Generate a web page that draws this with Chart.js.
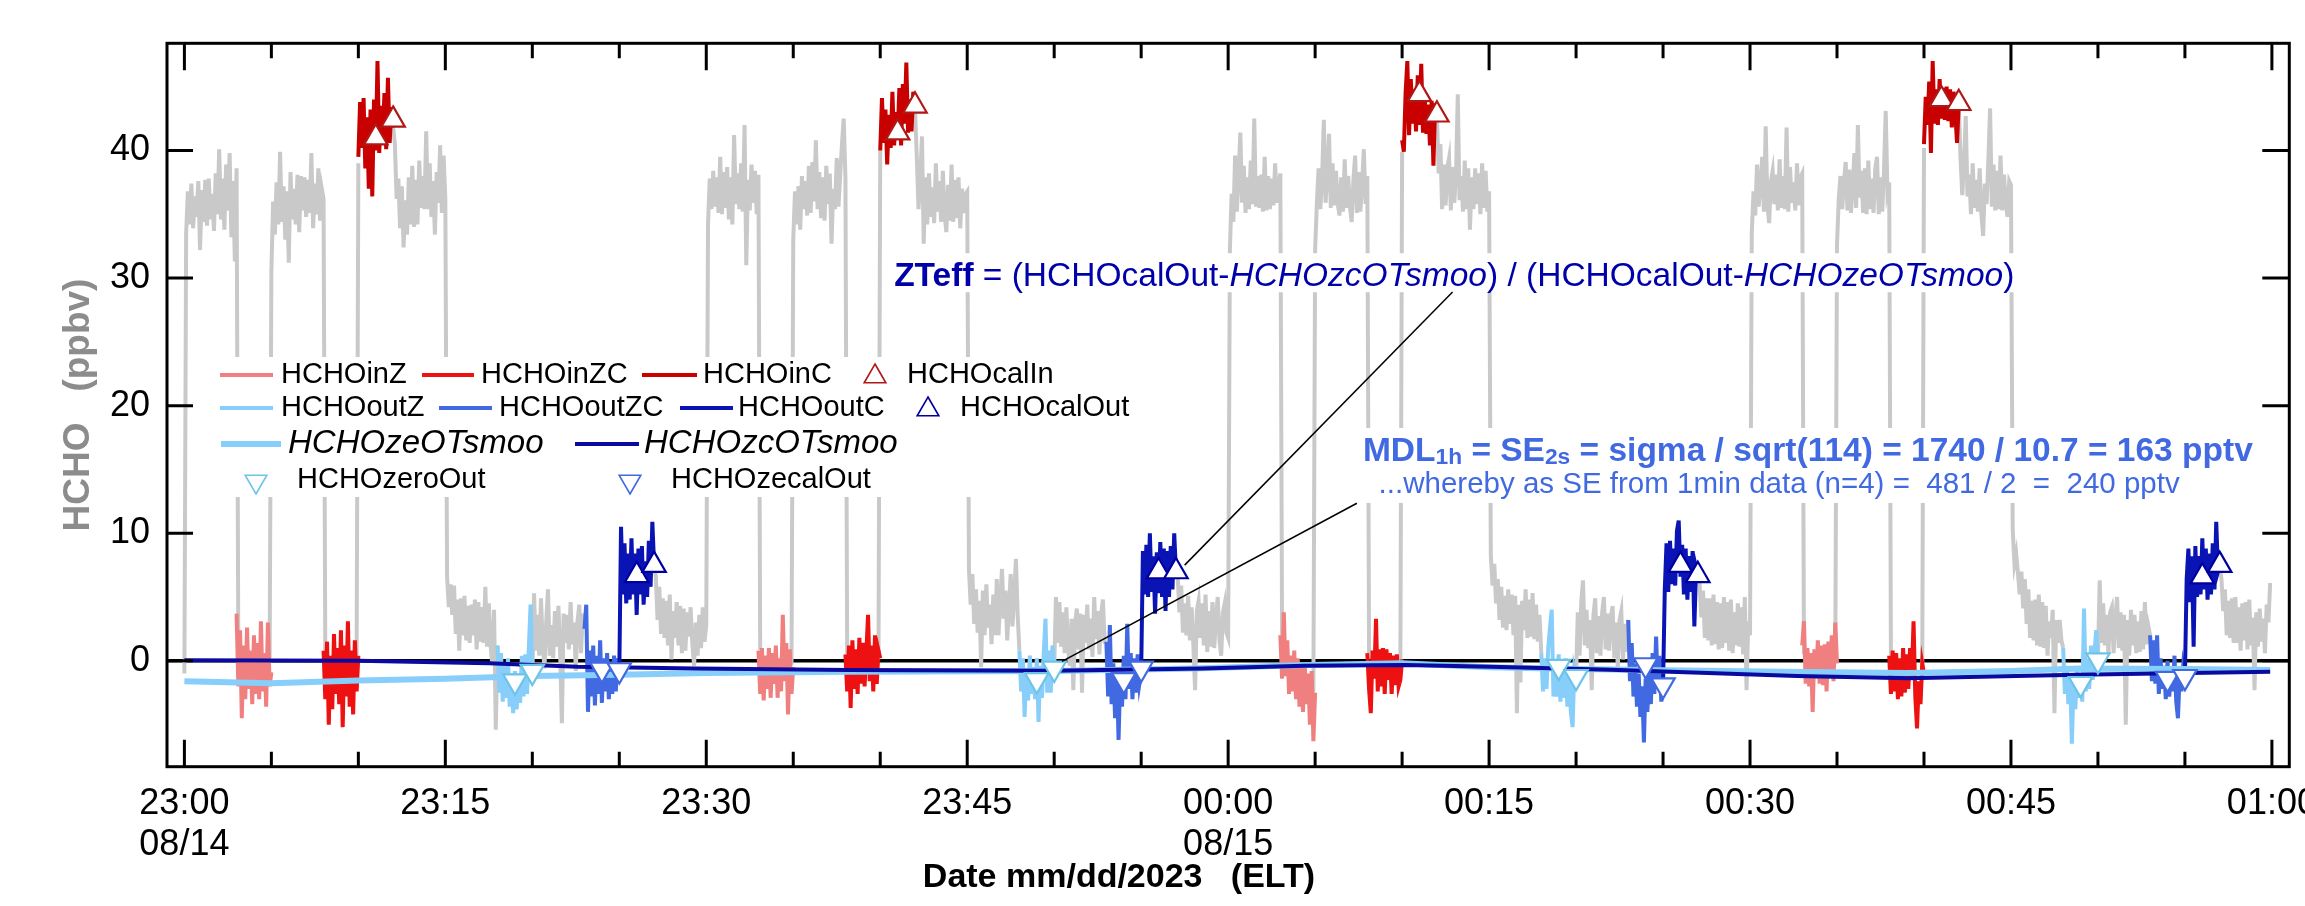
<!DOCTYPE html>
<html lang="en">
<head>
<meta charset="utf-8">
<title>HCHO inlet / outlet zero and calibration cycles</title>
<script src="https://cdn.jsdelivr.net/npm/chart.js@4.4.1/dist/chart.umd.min.js"></script>
<style>
  html, body { margin: 0; padding: 0; background: #ffffff; }
  canvas { display: block; }
</style>
</head>
<body>
<canvas id="hchoChart" width="2305" height="906"></canvas>
<script>
// Time is minutes after 23:00 on 08/14/2023, one sample every 6 s
const sampleStep = 0.1;

// x axis: labelled every 15 min, small ticks every 5
const tickMinutes = [0, 15, 30, 45, 60, 75, 90, 105, 120];
const tickTimes = ['23:00', '23:15', '23:30', '23:45', '00:00', '00:15', '00:30', '00:45', '01:00'];
const tickDates = ['08/14', '', '', '', '08/15', '', '', '', ''];
const minorStep = 5;
const yTicks = [0, 10, 20, 30, 40];

// full record (gray); each run starts at grayStarts[k], gaps are where the colored traces sit
const grayStarts = [0, 4.9, 9.9, 12.0, 20.0, 27.0, 34.9, 39.9, 42.0, 50.0, 57.0,
                    64.9, 69.9, 72.0, 80.0, 87.0, 94.9, 99.9, 102.0, 110.0, 117.0];
const grayRuns = [
  [-1.0, 33.5, 36.8, 34.2, 37.4, 33.9, 36.4, 34.8, 37.6, 32.2, 36.9, 34.4, 37.7, 34.1, 37.8, 34.6, 36.6, 33.7, 38.2, 35.0, 40.1, 34.6, 37.8, 33.8, 38.9, 35.3, 39.8, 33.2, 37.6, 31.3, 38.6, 0.5],
  [0.2, 30.5, 36.0, 33.4, 37.5, 34.2, 39.9, 34.4, 37.2, 33.0, 36.8, 31.2, 38.3, 34.6, 37.0, 34.2, 38.1, 33.6, 38.0, 35.3, 37.9, 34.8, 37.7, 35.1, 39.8, 33.9, 37.4, 35.0, 38.6, 34.5, 37.0, 36.2, 0.3],
  [0.4, 39.0],
  [41.8, 40.5, 36.2, 37.8, 33.9, 37.2, 32.4, 36.1, 33.4, 37.9, 34.2, 38.8, 34.0, 37.7, 34.2, 39.2, 35.5, 38.0, 35.4, 41.5, 35.4, 39.0, 34.8, 37.6, 33.4, 38.3, 35.9, 40.4, 35.1, 39.6, 36.2,
   6.6, 4.2, 6.0, 3.6, 5.9, 2.1, 4.8, 0.8, 4.9, 2.0, 5.1, 1.6, 4.3, 1.4, 4.4, 2.0, 4.8, 0.9, 4.6, 1.5, 4.2, 1.4, 5.8, 1.1, 4.5, 1.2, -0.3, 4.0, -5.4, 1.2],
  [-1.5, 5.3, 0.8, 3.6, 0.4, 4.9, 1.2, -0.6, 3.1, 5.6, 0.4, 2.8, 0.2, 3.9, 1.1, 4.3, 0.5, -4.9, 3.7, 1.4, 3.6, 0.9, 4.6, 1.3, 3.0, -0.8, 3.1, 4.4, 0.6, 3.7, 2.5],
  [7.5, 6.6, 3.2, 5.8, 2.1, 4.9, 1.8, 4.7, 1.2, 5.2, 0.1, 3.9, 1.8, 4.6, 1.2, 4.3, 0.6, 4.1, 0.8, 3.8, 1.9, 4.2, 1.3, -0.4, 3.0, 0.4, 3.6, 1.0, 4.2, 1.5,
   2.8, 34.2, 37.8, 35.4, 38.4, 35.6, 37.9, 35.1, 39.5, 35.0, 38.3, 35.5, 38.7, 34.6, 37.9, 34.2, 41.2, 35.8, 38.2, 35.4, 39.0, 35.2, 42.0, 31.0, 37.7, 35.3, 38.9, 35.9, 38.4, 35.0, 38.1, 0.8],
  [-0.3, 33.0, 36.8, 34.2, 37.2, 33.8, 38.0, 35.4, 37.6, 34.9, 38.8, 35.1, 39.1, 36.0, 40.8, 35.4, 38.3, 34.7, 37.9, 34.5, 38.8, 35.8, 38.2, 32.7, 37.0, 35.4, 39.4, 35.6, 38.1, 40.5, 42.5, 37.8, 0.5],
  [0.2, 40.0],
  [43.2, 39.6, 35.4, 37.8, 41.1, 32.7, 37.9, 34.2, 38.2, 34.8, 37.1, 34.3, 39.0, 35.2, 37.6, 34.4, 38.4, 35.0, 33.6, 37.3, 34.5, 38.9, 34.4, 37.7, 34.7, 37.9, 33.9, 37.0, 35.1, 36.6, 36.8,
   7.1, 4.4, 6.8, 2.9, 5.6, 2.2, 4.7, -0.5, 5.5, 2.0, 6.0, 2.6, 4.4, 1.3, 5.2, 2.0, 6.4, 2.0, 4.8, 7.2, 3.3, 5.5, 1.6, 4.2, 6.8, 2.7, 5.0, 8.0, 3.6, 0.8],
  [-0.6, 5.0, 1.4, 4.6, 1.1, 3.8, 0.6, 4.2, 1.0, -0.4, 3.3, -2.3, 2.9, 4.1, 0.9, 3.7, -2.5, 3.6, 1.4, 4.4, 0.9, 3.3, 0.3, 5.0, 1.7, 3.9, 0.5, 3.6, 4.8, 1.5, 1.5],
  [7.0, 6.6, 3.8, 5.9, 2.2, 4.5, 2.0, 5.1, 1.6, 4.2, 1.2, -2.3, 3.9, 4.7, 1.8, 4.5, 1.2, 5.2, 0.7, 3.9, 1.1, 4.6, 1.0, 3.3, 5.0, 1.6, 0.4, 3.8, 4.5, 2.2,
   1.8, 32.2, 36.6, 34.4, 39.6, 35.2, 38.1, 41.4, 35.9, 38.8, 35.1, 37.9, 35.4, 39.2, 35.8, 42.5, 35.6, 38.0, 35.5, 38.1, 35.2, 39.5, 35.3, 38.0, 35.4, 37.8, 35.7, 39.0, 35.9, 37.3, 38.2, 2.0],
  [-2.5, 32.2, 35.9, 38.6, 35.4, 37.8, 42.4, 35.9, 38.1, 41.3, 35.5, 39.0, 35.7, 38.4, 35.8, 34.9, 37.9, 35.2, 39.3, 35.5, 38.0, 35.6, 34.4, 37.7, 39.6, 35.1, 38.3, 35.2, 37.4, 40.1, 35.8, 38.0, 0.6],
  [-0.5, 39.9],
  [42.8, 38.2, 40.5, 35.4, 38.9, 35.7, 38.6, 39.4, 35.3, 38.7, 35.9, 38.2, 44.4, 36.1, 38.0, 35.2, 39.2, 35.4, 38.6, 33.8, 37.9, 35.4, 38.6, 35.8, 38.2, 35.0, 39.0, 35.5, 38.4, 35.2, 36.8,
   8.2, 5.9, 7.6, 4.5, 6.4, 3.2, 5.8, 2.6, 5.1, 2.4, 5.6, 2.9, 5.2, 2.0, 5.1, -4.1, 4.4, -1.7, 4.7, 2.4, 5.6, 1.8, 4.8, 1.9, 5.3, 1.7, 4.4, 1.5, 3.6, 0.6],
  [-1.2, 3.8, 0.4, 4.7, 6.3, 1.2, 4.0, 1.0, 3.2, -2.3, 3.6, 4.9, 0.6, 3.5, 0.4, 3.8, 5.0, 0.9, 3.7, 0.8, 3.4, 4.3, 0.2, 3.0, -0.6, 3.2, 3.9, 0.1, 2.9, 0.7, 3.2],
  [6.7, 6.1, 3.4, 5.5, 1.8, 4.9, 1.6, 4.9, 1.2, 5.2, 1.3, 4.6, 0.9, 4.5, 1.0, 5.0, 1.4, 4.6, 0.8, 4.8, 0.6, 3.8, 1.2, 4.5, 1.1, 4.2, 0.5, 5.0, -2.3, 3.1,
   2.0, 33.5, 36.8, 34.9, 38.9, 35.6, 37.4, 39.5, 35.2, 41.9, 35.8, 34.3, 37.6, 38.4, 35.8, 38.1, 35.3, 39.3, 35.5, 38.0, 35.4, 41.8, 35.2, 38.7, 35.9, 37.5, 35.3, 39.0, 35.7, 37.9, 38.2, 0.5],
  [-0.2, 32.6, 36.2, 38.0, 35.4, 37.6, 39.1, 35.3, 38.5, 35.1, 37.2, 39.8, 35.5, 42.0, 36.3, 38.4, 35.1, 38.6, 35.0, 39.2, 35.4, 37.8, 35.1, 38.6, 39.5, 35.0, 37.9, 35.2, 38.4, 43.1, 36.8, 37.5, 0.4],
  [-1.0, 40.2],
  [43.7, 39.4, 36.5, 38.9, 42.7, 36.4, 38.1, 35.0, 39.0, 35.5, 37.7, 35.2, 38.6, 35.0, 33.3, 37.4, 35.8, 39.2, 43.3, 35.6, 38.9, 35.3, 38.4, 35.4, 39.6, 35.3, 38.1, 35.9, 34.8, 37.6, 37.3,
   10.3, 7.6, 8.4, 6.9, 5.2, 7.0, 4.1, 6.4, 2.9, 5.6, 1.8, 4.7, 1.6, 4.8, 1.2, 5.2, 1.1, 4.6, 1.0, 4.3, 0.4, 3.1, 1.8, 4.0, -4.1, 3.2, 1.4, 3.2, 1.6, 1.0],
  [0.1, 6.3, 1.4, 4.5, 1.2, 3.6, 0.5, 3.8, 4.2, 0.6, 3.3, 5.0, 1.0, 3.8, 0.8, 3.6, -5.0, 3.2, 0.4, 4.0, 1.2, 3.6, 0.6, 3.1, 0.7, 3.9, 0.9, 4.6, 1.3, 2.7, 2.0],
  [7.5, 6.4, 3.9, 5.6, 2.0, 4.7, 1.8, 4.9, 1.4, 5.0, 1.4, 4.2, 0.8, 4.5, 1.6, 4.6, 0.9, 4.8, 1.2, 3.4, -2.3, 3.8, 1.1, 4.1, 1.5, 3.3, 0.6, 4.4, 3.0, 6.1]
];

// inlet zero, inlet zero+cal, inlet cal: 2 min each per cycle
const inZStarts = [3, 33, 63, 93];
const inZRuns = [
  [3.7, -2.0, 2.4, -4.5, 1.2, -3.0, 2.6, -2.2, 0.8, -3.4, 2.0, -2.6, 1.4, -3.0, 3.1, -2.4, 0.6, -3.6, 3.0, -2.0, -0.9],
  [0.8, -2.6, 1.0, -3.1, 0.4, -2.2, 1.0, -2.9, 0.6, -1.8, 1.2, -2.9, 0.2, -2.4, 3.6, -1.6, 1.4, -4.2, 0.9, -2.6, -0.5],
  [2.0, -1.4, 3.8, -1.2, 1.6, -2.6, 0.4, -2.4, 0.8, -3.0, 0.2, -3.6, -0.4, -4.0, -0.2, -3.4, -1.0, -5.0, -0.8, -6.3, -2.5],
  [1.2, 3.1, -1.8, 1.0, -2.0, 0.6, -4.0, 0.9, -1.4, 1.6, -1.8, 1.2, -1.9, 1.3, -2.4, 1.5, -1.1, 2.0, -1.6, 3.0, -0.2]
];
const inZCStarts = [8, 38, 68, 98];
const inZCRuns = [
  [0.8, -3.0, 1.5, -5.0, 0.4, -3.8, 2.1, -2.6, 1.0, -3.4, 2.4, -5.2, 1.2, -2.8, 3.1, -3.6, 0.8, -4.2, 1.6, -2.4, 0.4],
  [0.5, -2.4, 1.2, -3.7, 1.6, -2.2, 0.9, -2.6, 1.8, -1.8, 1.4, -2.0, 0.6, 3.6, -1.6, 1.2, -2.4, 2.0, -1.8, 0.8, 0.2],
  [0.6, -2.2, -4.1, 0.8, -1.4, 3.3, -2.4, 0.9, -2.0, 1.0, -2.6, 0.9, -1.5, 0.6, -2.6, 0.4, -1.9, 0.5, -2.0, -1.5, 0.1],
  [0.4, -2.6, 0.8, -2.4, 0.6, -3.0, 0.2, -2.8, 1.0, -2.5, 0.5, -2.2, 1.0, -1.4, 3.1, -2.8, -5.3, -1.6, -3.4, -0.2, -1.0]
];
const inCStarts = [10, 40, 70, 100];
const inCRuns = [
  [39.5, 43.8, 40.2, 44.1, 38.6, 42.6, 37.0, 43.2, 36.4, 44.0, 40.0, 47.0, 39.8, 43.5, 40.8, 44.5, 40.1, 45.7, 40.6, 43.4, 41.8],
  [40.0, 44.1, 40.6, 43.2, 38.9, 42.8, 40.2, 44.6, 40.4, 43.0, 41.0, 44.9, 40.4, 45.2, 42.1, 46.9, 41.4, 44.0, 41.5, 44.6, 43.2],
  [40.8, 39.9, 44.5, 47.0, 41.2, 45.6, 42.1, 44.8, 41.5, 45.9, 42.0, 46.8, 41.4, 44.2, 41.3, 43.6, 40.4, 43.9, 38.8, 43.7, 42.8],
  [40.5, 44.2, 42.0, 45.4, 39.8, 47.0, 42.1, 44.8, 42.0, 45.6, 42.5, 44.9, 42.4, 45.0, 42.3, 44.8, 41.8, 44.6, 42.9, 40.6, 43.7]
];

// outlet zero, outlet zero+cal, outlet cal
const outZStarts = [18, 48, 78, 108];
const outZRuns = [
  [1.2, -2.5, 0.6, -3.2, -0.4, -2.9, 0.2, -3.6, -1.0, -4.1, -0.8, -3.8, -1.2, -3.3, 0.4, -2.8, 0.5, -2.6, 1.0, 4.4, -1.5],
  [0.8, -2.4, 0.2, -4.4, -0.6, -3.1, 0.4, -2.6, -0.5, -3.0, 0.2, -4.8, -0.4, -2.9, 0.6, 3.3, -2.5, 0.8, -2.5, 1.2, -0.6],
  [0.6, -2.4, 0.2, -2.2, 1.0, 2.6, 4.0, -2.8, -0.6, -2.8, 0.5, -3.2, -0.4, -2.9, 0.2, -3.6, -0.8, -4.0, -5.2, -0.6, -1.2],
  [1.0, -2.6, -0.4, -3.4, -1.0, -6.5, -1.8, -3.8, -0.6, -2.9, -1.0, -3.2, 4.1, -2.4, 0.2, -2.2, 1.2, -1.5, 0.6, 2.4, 0.1]
];
const outZCStarts = [23, 53, 83, 113];
const outZCRuns = [
  [2.5, 4.4, -4.0, 0.8, -2.8, 1.2, -3.5, 0.4, -2.6, 1.6, -3.3, 0.2, -2.4, 0.6, -3.0, -0.2, -2.6, 0.4, -2.4, 0.2, -1.0],
  [1.5, -2.8, 2.8, -3.4, -0.2, -4.5, -0.6, -6.2, -1.0, -3.6, 0.4, -3.0, 2.9, -2.2, 0.6, -3.0, 0.2, -2.5, 0.5, -1.8, -0.9],
  [3.2, -1.6, 1.4, -2.8, -0.2, -3.6, -1.0, -4.4, -2.0, -6.4, -1.4, -4.0, -0.8, -3.4, 0.6, -2.6, 1.9, -2.2, 0.4, -3.2, -1.9],
  [2.0, -1.6, 1.6, -1.8, 2.0, -2.6, 0.2, -2.2, -0.4, -3.0, 0.0, -2.8, -0.6, -2.4, 0.4, -3.2, -4.5, -1.0, -2.4, -0.4, -1.2]
];
const outCStarts = [25, 55, 85, 115];
const outCRuns = [
  [-1.0, 10.5, 5.2, 9.2, 4.5, 8.4, 4.8, 9.6, 5.2, 8.4, 3.6, 8.8, 5.2, 9.0, 4.4, 7.8, 5.0, 9.4, 5.8, 10.9, 7.5],
  [-0.9, 8.6, 5.2, 9.1, 5.0, 10.0, 5.4, 8.2, 3.7, 8.5, 5.3, 9.3, 5.0, 8.8, 3.9, 8.6, 5.0, 9.0, 5.6, 10.0, 7.0],
  [-1.9, 5.6, 9.2, 5.4, 9.4, 6.0, 8.8, 5.9, 10.2, 11.0, 6.6, 9.1, 5.2, 8.8, 4.8, 8.2, 5.4, 8.6, 2.7, 7.3, 6.7],
  [-1.2, 6.4, 8.8, 4.6, 8.2, 1.1, 9.0, 5.0, 8.2, 5.2, 9.6, 5.6, 8.8, 4.8, 8.4, 5.2, 9.2, 5.6, 10.9, 7.0, 7.5]
];

// one-minute averages
const calInTimes = [11, 12, 41, 42, 71, 72, 101, 102];
const calInValues = [41.0, 42.4, 41.4, 43.5, 44.4, 42.8, 44.0, 43.7];
const calOutTimes = [26, 27, 56, 57, 86, 87, 116, 117];
const calOutValues = [6.7, 7.5, 7.0, 7.0, 7.5, 6.7, 6.6, 7.5];
const zeroOutTimes = [19, 20, 49, 50, 79, 80, 109, 110];
const zeroOutValues = [-1.6, -0.85, -1.5, -0.6, -0.46, -1.25, -1.8, 0.06];
const zecalOutTimes = [24, 25, 54, 55, 84, 85, 114, 115];
const zecalOutValues = [-0.67, -0.72, -1.5, -0.6, -0.33, -1.9, -1.4, -1.25];

// smoothed outlet zeros
const zeSmooTimes = [0, 5, 10, 15, 20, 25, 30, 38, 50, 58, 64, 70, 75, 80, 85, 92, 99, 105, 109, 115, 119.9];
const zeSmooValues = [-1.6, -1.75, -1.55, -1.4, -1.2, -1.1, -0.95, -0.85, -0.8, -0.6, -0.35, -0.2, -0.5, -0.65, -0.75, -0.85, -0.95, -0.8, -0.6, -0.65, -0.72];
const zcSmooTimes = [0, 10, 17.5, 22.6, 29.4, 38.2, 49.8, 58.5, 64.4, 70.2, 75.1, 82, 92.7, 99.1, 108.8, 119.9];
const zcSmooValues = [0.05, 0.0, -0.2, -0.46, -0.6, -0.73, -0.78, -0.6, -0.38, -0.33, -0.46, -0.7, -1.19, -1.37, -1.1, -0.85];

// annotation anchors, in (minutes, ppbv)
const zteffAt = [40.8, 30.3];
const mdlAt = [67.75, 16.6];
const wherebyAt = [68.65, 13.94];
const zteffArrow = [[72.9, 28.9], [57.5, 7.5]];
const mdlArrow = [[67.4, 12.35], [50.45, -0.05]];

const FONT = '"Liberation Sans", Arial, Helvetica, sans-serif';
const GRAY = '#c9c9c9';
const C = {
  inZ: '#f08080', inZC: '#ee1111', inC: '#c80000', calIn: '#b01818',
  outZ: '#87cefa', outZC: '#4169e1', outC: '#0a14b4', calOut: '#0000a0',
  zeSmoo: '#87cefa', zcSmoo: '#0a0aa0', zeroOut: '#6ec3e8', zecalOut: '#4169e1'
};

function runsToPoints(starts, runs) {
  const pts = [];
  runs.forEach((vals, k) => {
    if (k > 0) pts.push({ x: starts[k] - sampleStep / 2, y: null });
    vals.forEach((v, i) => pts.push({ x: +(starts[k] + i * sampleStep).toFixed(2), y: v }));
  });
  return pts;
}
function pairs(times, values) {
  return times.map((t, i) => ({ x: t, y: values[i] }));
}
function lineSet(label, data, color, width, order) {
  return { label, data, borderColor: color, backgroundColor: color, borderWidth: width,
           pointRadius: 0, tension: 0, spanGaps: false, fill: false, order };
}
function markerSet(label, data, color, down, order) {
  return { label, data, showLine: false, pointStyle: 'triangle', pointRotation: down ? 180 : 0,
           pointRadius: 13.5, pointBorderWidth: 2.2, pointBackgroundColor: '#ffffff',
           pointBorderColor: color, borderColor: color, backgroundColor: '#ffffff', order, down };
}

const datasets = [
  lineSet('HCHO', runsToPoints(grayStarts, grayRuns), GRAY, 4, 20),
  lineSet('HCHOinZ', runsToPoints(inZStarts, inZRuns), C.inZ, 4, 19),
  lineSet('HCHOinZC', runsToPoints(inZCStarts, inZCRuns), C.inZC, 4, 18),
  lineSet('HCHOinC', runsToPoints(inCStarts, inCRuns), C.inC, 4, 17),
  markerSet('HCHOcalIn', pairs(calInTimes, calInValues), C.calIn, false, 16),
  lineSet('HCHOoutZ', runsToPoints(outZStarts, outZRuns), C.outZ, 4, 15),
  lineSet('HCHOoutZC', runsToPoints(outZCStarts, outZCRuns), C.outZC, 4, 14),
  lineSet('HCHOoutC', runsToPoints(outCStarts, outCRuns), C.outC, 4, 13),
  markerSet('HCHOcalOut', pairs(calOutTimes, calOutValues), C.calOut, false, 12),
  lineSet('HCHOzeOTsmoo', pairs(zeSmooTimes, zeSmooValues), C.zeSmoo, 6, 11),
  lineSet('HCHOzcOTsmoo', pairs(zcSmooTimes, zcSmooValues), C.zcSmoo, 4, 10),
  markerSet('HCHOzeroOut', pairs(zeroOutTimes, zeroOutValues), C.zeroOut, true, 9),
  markerSet('HCHOzecalOut', pairs(zecalOutTimes, zecalOutValues), C.zecalOut, true, 8)
];

// legend layout (pixels): line samples start at x, text at tx
const legendBox = { left: 200, top: 357, right: 1145, bottom: 497 };
const legendRows = [
  { y: 375, items: [
    { label: 'HCHOinZ', x: 220, len: 53, tx: 281 },
    { label: 'HCHOinZC', x: 422, len: 52, tx: 481 },
    { label: 'HCHOinC', x: 642, len: 55, tx: 703 },
    { label: 'HCHOcalIn', x: 875, tx: 907 } ] },
  { y: 408, items: [
    { label: 'HCHOoutZ', x: 220, len: 53, tx: 281 },
    { label: 'HCHOoutZC', x: 439, len: 53, tx: 499 },
    { label: 'HCHOoutC', x: 680, len: 53, tx: 738 },
    { label: 'HCHOcalOut', x: 928, tx: 960 } ] },
  { y: 444, italic: true, items: [
    { label: 'HCHOzeOTsmoo', x: 221, len: 60, tx: 288 },
    { label: 'HCHOzcOTsmoo', x: 575, len: 64, tx: 644 } ] },
  { y: 480, items: [
    { label: 'HCHOzeroOut', x: 256, tx: 297 },
    { label: 'HCHOzecalOut', x: 630, tx: 671 } ] }
];

const zteffParts = [
  { text: 'ZTeff', style: 'bold' },
  { text: ' = (HCHOcalOut-' },
  { text: 'HCHOzcOTsmoo', style: 'italic' },
  { text: ') / (HCHOcalOut-' },
  { text: 'HCHOzeOTsmoo', style: 'italic' },
  { text: ')' }
];
const mdlParts = [
  { text: 'MDL', style: 'bold' },
  { text: '1h', style: 'bold', scale: 0.68, dy: 3 },
  { text: ' = SE', style: 'bold' },
  { text: '2s', style: 'bold', scale: 0.68, dy: 3 },
  { text: ' = sigma / sqrt(114) = 1740 / 10.7 = 163 pptv', style: 'bold' }
];
const wherebyParts = [
  { text: '...whereby as SE from 1min data (n=4) =  481 / 2  =  240 pptv' }
];

function setFont(ctx, size, style) {
  ctx.font = `${style || ''} ${size}px ${FONT}`.trim();
}
function partsWidth(ctx, parts, size) {
  let w = 0;
  for (const p of parts) {
    setFont(ctx, size * (p.scale || 1), p.style);
    w += ctx.measureText(p.text).width;
  }
  return w;
}
function drawParts(ctx, parts, x, baseline, size, color) {
  ctx.fillStyle = color;
  ctx.textAlign = 'left';
  ctx.textBaseline = 'alphabetic';
  for (const p of parts) {
    setFont(ctx, size * (p.scale || 1), p.style);
    ctx.fillText(p.text, x, baseline + (p.dy || 0));
    x += ctx.measureText(p.text).width;
  }
}
function triangle(ctx, x, y, r, down) {
  const s = down ? -1 : 1;
  const h = r * Math.sqrt(3) / 2;
  ctx.beginPath();
  ctx.moveTo(x, y - s * r);
  ctx.lineTo(x + h, y + s * r / 2);
  ctx.lineTo(x - h, y + s * r / 2);
  ctx.closePath();
}

function drawLegend(chart) {
  const ctx = chart.ctx;
  const byLabel = {};
  chart.data.datasets.forEach(d => { byLabel[d.label] = d; });
  ctx.save();
  ctx.fillStyle = '#ffffff';
  ctx.fillRect(legendBox.left, legendBox.top, legendBox.right - legendBox.left, legendBox.bottom - legendBox.top);
  for (const row of legendRows) {
    for (const it of row.items) {
      const ds = byLabel[it.label];
      if (ds.showLine === false) {
        triangle(ctx, it.x, row.y + 1.5, 12.5, ds.down);
        ctx.fillStyle = '#ffffff';
        ctx.fill();
        ctx.lineWidth = 1.6;
        ctx.strokeStyle = ds.borderColor;
        ctx.stroke();
      } else {
        ctx.beginPath();
        ctx.moveTo(it.x, row.y);
        ctx.lineTo(it.x + it.len, row.y);
        ctx.lineWidth = ds.borderWidth;
        ctx.strokeStyle = ds.borderColor;
        ctx.lineCap = 'butt';
        ctx.stroke();
      }
      ctx.fillStyle = '#000000';
      ctx.textAlign = 'left';
      ctx.textBaseline = 'middle';
      if (row.italic) setFont(ctx, 33, 'italic'); else setFont(ctx, 29);
      ctx.fillText(it.label, it.tx, row.y);
    }
  }
  ctx.restore();
}

function drawNotes(chart) {
  const { ctx, scales: { x, y } } = chart;
  ctx.save();

  // efficiency formula, on a white patch
  const zx = x.getPixelForValue(zteffAt[0]);
  const zy = y.getPixelForValue(zteffAt[1]);
  const zw = partsWidth(ctx, zteffParts, 33.5);
  ctx.fillStyle = '#ffffff';
  ctx.fillRect(zx - 9, zy - 21, zw + 13, 39);
  drawParts(ctx, zteffParts, zx, zy + 12, 33.5, '#0000aa');

  // detection limit, two lines on one white patch
  const m1x = x.getPixelForValue(mdlAt[0]);
  const m1y = y.getPixelForValue(mdlAt[1]);
  const m2x = x.getPixelForValue(wherebyAt[0]);
  const m2y = y.getPixelForValue(wherebyAt[1]);
  const w1 = partsWidth(ctx, mdlParts, 33.5);
  const w2 = partsWidth(ctx, wherebyParts, 29.5);
  const bl = Math.min(m1x, m2x) - 11;
  const br = Math.max(m1x + w1, m2x + w2) + 8;
  ctx.fillStyle = '#ffffff';
  ctx.fillRect(bl, m1y - 21, br - bl, (m2y + 20) - (m1y - 21));
  drawParts(ctx, mdlParts, m1x, m1y + 12, 33.5, '#4169e1');
  drawParts(ctx, wherebyParts, m2x, m2y + 10.5, 29.5, '#4169e1');

  // leader lines
  ctx.strokeStyle = '#000000';
  ctx.lineWidth = 1.5;
  for (const seg of [zteffArrow, mdlArrow]) {
    ctx.beginPath();
    ctx.moveTo(x.getPixelForValue(seg[0][0]), y.getPixelForValue(seg[0][1]));
    ctx.lineTo(x.getPixelForValue(seg[1][0]), y.getPixelForValue(seg[1][1]));
    ctx.stroke();
  }
  ctx.restore();
}

function drawFrame(chart) {
  const { ctx, chartArea: a, scales: { x, y } } = chart;
  ctx.save();
  ctx.strokeStyle = '#000000';
  ctx.lineWidth = 3;
  ctx.lineCap = 'butt';
  ctx.strokeRect(a.left, a.top, a.right - a.left, a.bottom - a.top);
  ctx.beginPath();
  const last = tickMinutes[tickMinutes.length - 1];
  for (let m = tickMinutes[0]; m <= last; m += minorStep) {
    const px = x.getPixelForValue(m);
    const len = tickMinutes.includes(m) ? 27 : 15;
    ctx.moveTo(px, a.bottom); ctx.lineTo(px, a.bottom - len);
    ctx.moveTo(px, a.top); ctx.lineTo(px, a.top + len);
  }
  for (const v of yTicks) {
    const py = y.getPixelForValue(v);
    ctx.moveTo(a.left, py); ctx.lineTo(a.left + 26, py);
    ctx.moveTo(a.right, py); ctx.lineTo(a.right - 27, py);
  }
  ctx.stroke();

  // x axis title sits left of centre
  ctx.fillStyle = '#000000';
  ctx.textAlign = 'center';
  ctx.textBaseline = 'alphabetic';
  setFont(ctx, 34, 'bold');
  ctx.fillText('Date mm/dd/2023   (ELT)', 1119, 887);
  ctx.restore();
}

const overlay = {
  id: 'overlay',
  afterDatasetsDraw(chart) {
    drawLegend(chart);
    drawNotes(chart);
  },
  afterDraw(chart) {
    drawFrame(chart);
  }
};

new Chart(document.getElementById('hchoChart'), {
  type: 'line',
  data: { datasets },
  plugins: [overlay],
  options: {
    responsive: false,
    devicePixelRatio: 1,
    animation: false,
    events: [],
    layout: { padding: { top: 43.3, right: 2, left: 0, bottom: 0 } },
    plugins: { legend: { display: false }, tooltip: { enabled: false } },
    scales: {
      x: {
        type: 'linear',
        min: -1,
        max: 121,
        afterBuildTicks: s => { s.ticks = tickMinutes.map(v => ({ value: v })); },
        afterFit: s => { s.height = 139.3; s.paddingLeft = 0; s.paddingRight = 0; },
        grid: { display: false, drawTicks: false },
        border: { display: false },
        ticks: {
          autoSkip: false,
          maxRotation: 0,
          padding: 17,
          color: '#000000',
          font: { family: FONT, size: 36, lineHeight: 1.14 },
          callback: v => {
            const i = tickMinutes.indexOf(v);
            return tickDates[i] ? [tickTimes[i], tickDates[i]] : tickTimes[i];
          }
        }
      },
      y: {
        type: 'linear',
        min: -8.3,
        max: 48.4,
        afterBuildTicks: s => { s.ticks = yTicks.map(v => ({ value: v })); },
        afterFit: s => { s.width = 167; s.paddingTop = 0; s.paddingBottom = 0; },
        grid: {
          drawTicks: false,
          lineWidth: 3.5,
          color: c => (c.tick && c.tick.value === 0 ? '#000000' : 'rgba(0,0,0,0)')
        },
        border: { display: false },
        ticks: { padding: 17, color: '#000000', font: { family: FONT, size: 36 } },
        title: {
          display: true,
          text: 'HCHO   (ppbv)',
          color: '#8c8c8c',
          font: { family: FONT, size: 37, weight: 'bold' },
          padding: { top: 56.8, bottom: 0 }
        }
      }
    }
  }
});
</script>
</body>
</html>
